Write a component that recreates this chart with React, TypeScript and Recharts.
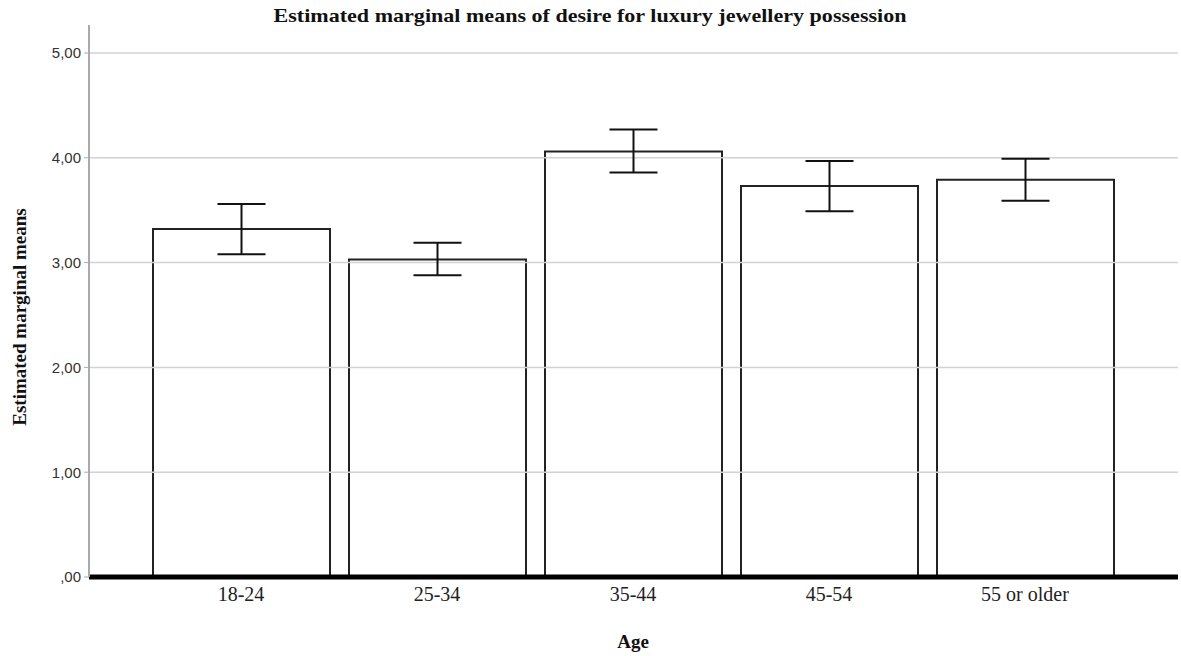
import { Bar, BarChart, ErrorBar, ReferenceLine, XAxis, YAxis } from 'recharts';

const ageGroups = ['18-24', '25-34', '35-44', '45-54', '55 or older'];
const means = [3.32, 3.03, 4.06, 3.73, 3.79];
const lowerCI = [3.08, 2.88, 3.86, 3.49, 3.59];
const upperCI = [3.56, 3.19, 4.27, 3.97, 3.99];
const yTicks = [0, 1, 2, 3, 4, 5];

const data = ageGroups.map((age, i) => ({
  age,
  mean: means[i],
  ci: [means[i] - lowerCI[i], upperCI[i] - means[i]],
}));

const fmt = (v: number) => (v === 0 ? ',00' : v.toFixed(2).replace('.', ','));

export default function App() {
  return (
    <div style={{ position: 'absolute', left: 0, top: 0, width: 1181, height: 656, background: '#fff' }}>
      <BarChart width={1181} height={656} data={data} margin={{ top: 25, right: 3, bottom: 19, left: 0 }} barSize={177}>
        <text
          x={590}
          y={22}
          textAnchor="middle"
          fontFamily="Liberation Serif"
          fontWeight="bold"
          fontSize={19}
          textLength={633}
          lengthAdjust="spacingAndGlyphs"
          fill="#111"
        >
          Estimated marginal means of desire for luxury jewellery possession
        </text>
        {yTicks.slice(1).map((t) => (
          <ReferenceLine key={t} y={t} stroke="#d2d2d2" strokeWidth={1.5} />
        ))}
        <XAxis
          dataKey="age"
          height={60}
          padding={{ left: 54, right: 55 }}
          axisLine={{ stroke: '#000', strokeWidth: 5 }}
          tickLine={false}
          tick={{ fontFamily: 'Liberation Serif', fontSize: 20, fill: '#222' }}
          tickMargin={4}
          label={{
            content: () => (
              <text x={633} y={648} textAnchor="middle" fontFamily="Liberation Serif" fontWeight="bold" fontSize={19} fill="#111">
                Age
              </text>
            ),
          }}
        />
        <YAxis
          domain={[0, 5.267]}
          ticks={yTicks}
          tickFormatter={fmt}
          width={89}
          axisLine={{ stroke: '#aaa', strokeWidth: 2 }}
          tickLine={{ stroke: '#aaa' }}
          tickSize={5}
          tickMargin={3}
          tick={{ fontFamily: 'Liberation Sans', fontSize: 15, fill: '#333' }}
          label={{
            content: () => (
              <text x={26} y={317} transform="rotate(-90 26 317)" textAnchor="middle" fontFamily="Liberation Serif" fontWeight="bold" fontSize={19} fill="#111">
                Estimated marginal means
              </text>
            ),
          }}
        />
        <Bar dataKey="mean" fill="#fff" stroke="#222" strokeWidth={2} isAnimationActive={false}>
          <ErrorBar dataKey="ci" width={24} stroke="#111" strokeWidth={2} direction="y" />
        </Bar>
      </BarChart>
    </div>
  );
}
